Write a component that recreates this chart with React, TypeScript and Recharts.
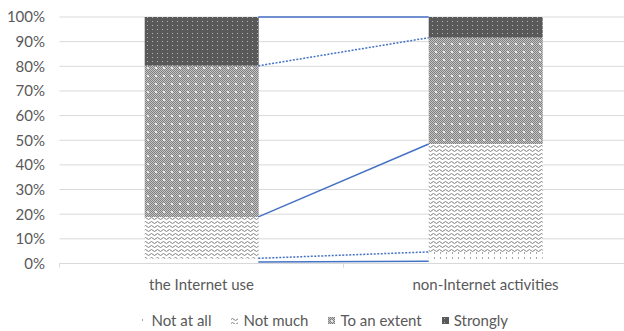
import React from 'react';
import { ComposedChart, Bar, Line, XAxis, YAxis, CartesianGrid, Legend } from 'recharts';

// Share of responses (%) per category, stacked bottom to top
const categories = ['the Internet use', 'non-Internet activities'];
const noAnswer = [0.6, 0.9];
const notAtAll = [1.5, 3.8];
const notMuch = [16.8, 43.8];
const toAnExtent = [61.3, 43.1];
const strongly = [19.8, 8.4];
const yTicks = [0, 10, 20, 30, 40, 50, 60, 70, 80, 90, 100];

const TEXT = '#595959';
const GRID = '#d9d9d9';
const LINK = '#4472c4';
const FONT = 'Lato, sans-serif';
const FONT_SIZE = 15;
const GAP = 0.3; // category gap on each side of a column, as a share of the band
const TICK_SIZE = 6;
const X_TICK_MARGIN = 10;

type Series = {
  key: string;
  name: string;
  values: number[];
  fill: string;
  inLegend: boolean;
  dash?: string;
};

const seriesList: Series[] = [
  { key: 'noAnswer', name: '', values: noAnswer, fill: 'transparent', inLegend: false },
  { key: 'notAtAll', name: 'Not at all', values: notAtAll, fill: 'url(#pat-not-at-all)', inLegend: true, dash: '2 1.5' },
  { key: 'notMuch', name: 'Not much', values: notMuch, fill: 'url(#pat-not-much)', inLegend: true },
  { key: 'toAnExtent', name: 'To an extent', values: toAnExtent, fill: 'url(#pat-extent)', inLegend: true, dash: '2 1.5' },
  { key: 'strongly', name: 'Strongly', values: strongly, fill: 'url(#pat-strongly)', inLegend: true },
];

// One row per column for the stacked bars
const barData = categories.map((category, i) => {
  const row: Record<string, string | number> = { category };
  seriesList.forEach((s) => {
    row[s.key] = s.values[i];
  });
  return row;
});

// Series lines: join the top of each segment from the right edge of the
// first column to the left edge of the second one
const halfBar = 0.5 - GAP;
const linkData = [0, 1].map((i) => {
  const row: Record<string, number> = { pos: i === 0 ? 0.5 + halfBar : 1.5 - halfBar };
  let cum = 0;
  seriesList.forEach((s) => {
    cum += s.values[i];
    row[`top_${s.key}`] = cum;
  });
  return row;
});

const CategoryTick = (props: any) => {
  const { x, y, payload } = props;
  const half = typeof payload?.offset === 'number' ? payload.offset : 0;
  const axisY = y - TICK_SIZE - X_TICK_MARGIN;
  return (
    <g>
      {half > 0 &&
        [x - half, x + half].map((tx, i) => (
          <line key={i} x1={tx} x2={tx} y1={axisY} y2={axisY + 4} stroke={GRID} strokeWidth={1} />
        ))}
      <text x={x} y={y} dy="0.71em" textAnchor="middle" fill={TEXT} fontSize={FONT_SIZE} fontFamily={FONT}>
        {payload.value}
      </text>
    </g>
  );
};

const LegendContent = () => (
  <div
    style={{
      display: 'flex',
      justifyContent: 'center',
      alignItems: 'center',
      height: 22,
      paddingLeft: 20,
      fontSize: FONT_SIZE,
      color: TEXT,
      fontFamily: FONT,
      whiteSpace: 'nowrap',
    }}
  >
    {seriesList
      .filter((s) => s.inLegend)
      .map((s, i) => (
        <div key={s.key} style={{ display: 'flex', alignItems: 'center', marginLeft: i ? 20 : 0 }}>
          <svg width={7} height={7} style={{ marginRight: 5, display: 'block' }}>
            <rect width={7} height={7} fill={s.fill} />
          </svg>
          <span>{s.name}</span>
        </div>
      ))}
  </div>
);

export default function App() {
  return (
    <div style={{ position: 'absolute', left: 0, top: 0, fontFamily: FONT, background: '#fff' }}>
      <ComposedChart
        width={624}
        height={331}
        data={barData}
        margin={{ top: 17, right: -3.5, bottom: 0, left: 0 }}
        barCategoryGap={`${GAP * 100}%`}
      >
        <defs>
          <pattern id="pat-not-at-all" patternUnits="userSpaceOnUse" width="6" height="5">
            <rect width="6" height="5" fill="#fff" />
            <rect x="2" y="2" width="1" height="2" fill="#a6a6a6" />
          </pattern>
          <pattern id="pat-not-much" patternUnits="userSpaceOnUse" width="6" height="4">
            <rect width="6" height="4" fill="#fff" />
            <path d="M0 2.5 Q1.5 0.5 3 2.5 T6 2.5" fill="none" stroke="#7f7f7f" strokeWidth="1" />
          </pattern>
          <pattern id="pat-checker" patternUnits="userSpaceOnUse" width="2" height="2">
            <rect width="2" height="2" fill="#c4c4c4" />
            <rect width="1" height="1" fill="#808080" />
            <rect x="1" y="1" width="1" height="1" fill="#808080" />
          </pattern>
          <pattern id="pat-extent" patternUnits="userSpaceOnUse" width="8" height="8">
            <rect width="8" height="8" fill="url(#pat-checker)" />
            <rect x="3" y="3" width="2" height="2" fill="#e8e8e8" />
          </pattern>
          <pattern id="pat-strongly" patternUnits="userSpaceOnUse" width="5" height="4">
            <rect width="5" height="4" fill="#595959" />
            <rect x="2" y="1" width="1" height="1" fill="#b3b3b3" />
          </pattern>
        </defs>
        <CartesianGrid vertical={false} stroke={GRID} />
        <XAxis
          dataKey="category"
          tickLine={false}
          axisLine={{ stroke: GRID }}
          tickSize={TICK_SIZE}
          tickMargin={X_TICK_MARGIN}
          tick={<CategoryTick />}
          interval={0}
          height={45.5}
        />
        <XAxis xAxisId="pos" type="number" dataKey="pos" domain={[0, 2]} hide />
        <YAxis
          domain={[0, 100]}
          ticks={yTicks}
          tickFormatter={(v: number) => `${v}%`}
          axisLine={false}
          tickLine={false}
          tickSize={TICK_SIZE}
          tickMargin={8.5}
          tick={{ fill: TEXT, fontSize: FONT_SIZE, fontFamily: FONT }}
          width={59.5}
        />
        {seriesList.map((s) => (
          <Bar key={s.key} dataKey={s.key} name={s.name} stackId="share" fill={s.fill} isAnimationActive={false} />
        ))}
        {seriesList.map((s) => (
          <Line
            key={`link_${s.key}`}
            xAxisId="pos"
            data={linkData}
            dataKey={`top_${s.key}`}
            stroke={LINK}
            strokeWidth={1.5}
            strokeDasharray={s.dash}
            dot={false}
            activeDot={false}
            legendType="none"
            isAnimationActive={false}
          />
        ))}
        <Legend verticalAlign="bottom" content={<LegendContent />} />
      </ComposedChart>
    </div>
  );
}
